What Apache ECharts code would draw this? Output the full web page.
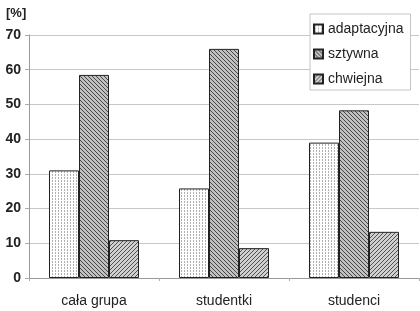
<!DOCTYPE html>
<html><head><meta charset="utf-8">
<script src="https://cdn.jsdelivr.net/npm/echarts@6/dist/echarts.min.js"></script>
<style>html,body{margin:0;padding:0;background:#fff}#c{width:420px;height:311px}</style>
</head><body><div id="c"></div>
<script>
var categories = ['cała grupa', 'studentki', 'studenci'];
var seriesNames = ['adaptacyjna', 'sztywna', 'chwiejna'];
var adaptacyjna = [31, 25.8, 39];
var sztywna = [58.5, 66, 48.3];
var chwiejna = [10.9, 8.6, 13.3];
var yTicks = [0, 10, 20, 30, 40, 50, 60, 70];

function pattern(size, bg, fg, fn) {
  var c = document.createElement('canvas');
  c.width = size; c.height = size;
  var ctx = c.getContext('2d');
  ctx.fillStyle = bg; ctx.fillRect(0, 0, size, size);
  ctx.fillStyle = fg;
  for (var x = 0; x < size; x++) for (var y = 0; y < size; y++) if (fn(x, y)) ctx.fillRect(x, y, 1, 1);
  return c;
}
var pDots = pattern(3, '#ffffff', '#b0b0b0', function (x, y) { return x === 1 && y !== 2; });
var pBack = pattern(4, '#c0c0c0', '#484848', function (x, y) { return x === y; });
var pFwd = pattern(4, '#d0d0d0', '#505050', function (x, y) { return x === 3 - y; });

var chart = echarts.init(document.getElementById('c'), null, { renderer: 'canvas' });
function mk(name, data, img) {
  return {
    name: name, type: 'bar', data: data, barWidth: 30, barGap: '0%',
    itemStyle: { color: { image: img, repeat: 'repeat' }, borderColor: '#222', borderWidth: 1 }
  };
}
chart.setOption({
  animation: false,
  backgroundColor: '#fff',
  textStyle: { fontFamily: 'Liberation Sans' },
  grid: { left: 29, right: 1, top: 35, bottom: 33 },
  graphic: [{ type: 'text', left: 6, top: 7, style: { text: '[%]', font: 'bold 13px "Liberation Sans"', fill: '#222' } }],
  legend: {
    orient: 'vertical', left: 310, top: 14,
    padding: [8, 7, 4, 3], itemGap: 11, itemWidth: 9, itemHeight: 9,
    backgroundColor: '#fff', borderColor: '#c4c4c4', borderWidth: 1,
    textStyle: { fontSize: 14, color: '#222' },
    data: seriesNames.map(function (n) { return { name: n, icon: 'rect' }; })
  },
  xAxis: {
    type: 'category', data: categories,
    axisLine: { lineStyle: { color: '#999' } },
    axisTick: { show: true, length: 3, lineStyle: { color: '#aaa' } },
    axisLabel: { fontSize: 14, color: '#222', margin: 16 }
  },
  yAxis: {
    type: 'value', min: yTicks[0], max: yTicks[yTicks.length - 1], interval: 10,
    axisLine: { show: true, lineStyle: { color: '#999' } },
    axisTick: { show: true, length: 4, lineStyle: { color: '#aaa' } },
    axisLabel: { fontSize: 14, fontWeight: 'bold', color: '#222', margin: 8 },
    splitLine: { lineStyle: { color: '#c8c8c8' } }
  },
  series: [mk(seriesNames[0], adaptacyjna, pDots), mk(seriesNames[1], sztywna, pBack), mk(seriesNames[2], chwiejna, pFwd)]
});
</script></body></html>
